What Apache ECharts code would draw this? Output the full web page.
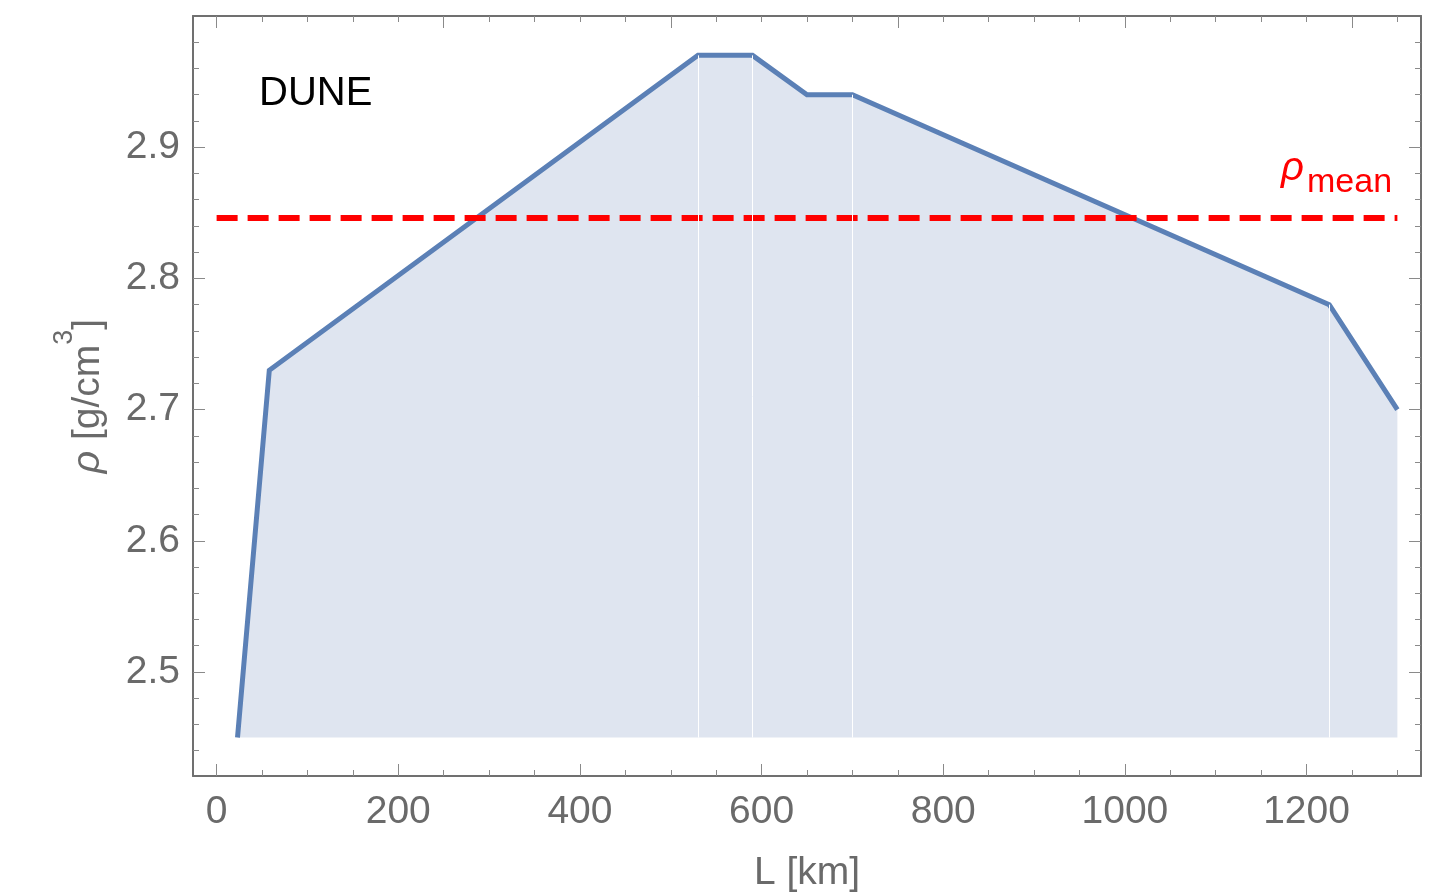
<!DOCTYPE html>
<html>
<head>
<meta charset="utf-8">
<script src="https://cdn.jsdelivr.net/npm/echarts@6/dist/echarts.min.js"></script>
<style>
html,body{margin:0;padding:0;background:#fff;}
#chart{width:1431px;height:894px;}
</style>
</head>
<body>
<div id="chart"></div>
<script>
// ---- data ----
const distanceKm = [23, 58, 530, 590, 650, 700, 1225, 1300];
const densityRho = [2.45, 2.73, 2.97, 2.97, 2.94, 2.94, 2.78, 2.70];
const fillBaseRho = 2.45;
const seamIndex = [2, 3, 5, 6];          // profile vertices with a visible seam in the fill
const meanRho = 2.846;
const meanKm = [0, 1300];
// ---- ticks ----
const xMajorBottom = [0, 200, 400, 600, 800, 1000, 1200];
const xMajorTop = [0, 250, 500, 750, 1000, 1250];
const xMinor = [0, 50, 100, 150, 200, 250, 300, 350, 400, 450, 500, 550, 600, 650, 700,
                750, 800, 850, 900, 950, 1000, 1050, 1100, 1150, 1200, 1250, 1300];
const yMajor = [2.5, 2.6, 2.7, 2.8, 2.9];
const yMinor = [2.44, 2.46, 2.48, 2.5, 2.52, 2.54, 2.56, 2.58, 2.6, 2.62, 2.64, 2.66, 2.68,
                2.7, 2.72, 2.74, 2.76, 2.78, 2.8, 2.82, 2.84, 2.86, 2.88, 2.9, 2.92, 2.94, 2.96, 2.98];
const xRange = [-26, 1326];
const yRange = [2.4207, 3.0];

const FONT = "'Liberation Sans', Arial, sans-serif";
const GREY = '#6a6a6a';
const FRAME = '#707070';
const TICK = '#8a8a8a';

const profile = distanceKm.map((d, i) => [d, densityRho[i]]);
const seams = seamIndex.map(i => [
  { coord: [distanceKm[i], fillBaseRho] },
  { coord: [distanceKm[i], densityRho[i]] }
]);

function xAx(pos, ticks, len, withLine, withLabel) {
  const a = {
    type: 'value', position: pos, min: xRange[0], max: xRange[1],
    axisLine: { show: withLine, onZero: false, lineStyle: { color: FRAME, width: 2 } },
    axisTick: { show: true, inside: true, length: len, customValues: ticks,
                lineStyle: { color: TICK, width: 1 } },
    axisLabel: { show: withLabel, customValues: ticks, color: GREY, fontSize: 39,
                 fontFamily: FONT, margin: 17, formatter: v => String(Math.round(v)) },
    splitLine: { show: false }
  };
  if (withLabel) {
    a.name = 'L [km]';
    a.nameLocation = 'middle';
    a.nameGap = 78;
    a.nameTextStyle = { color: GREY, fontSize: 39, fontFamily: FONT };
  }
  return a;
}
function yAx(pos, ticks, len, withLine, withLabel) {
  const a = {
    type: 'value', position: pos, min: yRange[0], max: yRange[1],
    axisLine: { show: withLine, onZero: false, lineStyle: { color: FRAME, width: 2 } },
    axisTick: { show: true, inside: true, length: len, customValues: ticks,
                lineStyle: { color: TICK, width: 1 } },
    axisLabel: { show: withLabel, customValues: ticks, color: GREY, fontSize: 39,
                 fontFamily: FONT, margin: 13, formatter: v => v.toFixed(1) },
    splitLine: { show: false }
  };
  if (withLabel) {
    a.name = '{i|ρ}{n| [g/cm}{s|3}{n|]}';
    a.nameLocation = 'middle';
    a.nameGap = 85;
    a.nameTextStyle = {
      color: GREY, fontSize: 39, fontFamily: FONT,
      rich: {
        i: { color: GREY, fontSize: 39, fontFamily: FONT, fontStyle: 'italic', lineHeight: 39, verticalAlign: 'bottom' },
        n: { color: GREY, fontSize: 39, fontFamily: FONT, lineHeight: 39, verticalAlign: 'bottom' },
        s: { color: GREY, fontSize: 27, fontFamily: FONT, lineHeight: 57, verticalAlign: 'top' }
      }
    };
  }
  return a;
}

const chart = echarts.init(document.getElementById('chart'), null, { renderer: 'canvas' });
chart.setOption({
  animation: false,
  backgroundColor: '#ffffff',
  grid: { left: 193, right: 10, top: 16, bottom: 118, containLabel: false, outerBoundsMode: 'none' },
  xAxis: [
    xAx('bottom', xMajorBottom, 12, true, true),
    xAx('bottom', xMinor, 6, false, false),
    xAx('top', xMajorTop, 12, true, false),
    xAx('top', xMinor, 6, false, false)
  ],
  yAxis: [
    yAx('left', yMajor, 12, true, true),
    yAx('left', yMinor, 6, false, false),
    yAx('right', yMajor, 12, true, false),
    yAx('right', yMinor, 6, false, false)
  ],
  series: [
    {
      name: 'fill', type: 'line', data: profile, xAxisIndex: 0, yAxisIndex: 0,
      showSymbol: false, z: 1, silent: true,
      lineStyle: { width: 0 },
      areaStyle: { color: '#dfe5f0', opacity: 1, origin: fillBaseRho },
      markLine: {
        silent: true, symbol: ['none', 'none'], animation: false,
        label: { show: false },
        lineStyle: { color: '#ffffff', width: 1, type: 'solid' },
        data: seams
      }
    },
    {
      name: 'profile', type: 'line', data: profile, xAxisIndex: 0, yAxisIndex: 0,
      showSymbol: false, z: 3,
      lineStyle: { color: '#5b80b6', width: 5, cap: 'butt', join: 'miter' }
    },
    {
      name: 'mean', type: 'line', data: meanKm.map(d => [d, meanRho]),
      xAxisIndex: 0, yAxisIndex: 0, showSymbol: false, z: 4,
      lineStyle: { color: '#ff0000', width: 6, type: [21, 10], cap: 'butt' }
    }
  ],
  graphic: [
    { type: 'text', z: 10, style: { text: 'DUNE', x: 259, y: 94, verticalAlign: 'middle',
      fill: '#000000', fontSize: 40, fontFamily: FONT } },
    { type: 'text', z: 10, style: { text: 'ρ', x: 1281, y: 169, verticalAlign: 'middle',
      fill: '#ff0000', fontSize: 40, fontStyle: 'italic', fontFamily: FONT } },
    { type: 'text', z: 10, style: { text: 'mean', x: 1307, y: 183, verticalAlign: 'middle',
      fill: '#ff0000', fontSize: 34, fontFamily: FONT } }
  ]
});
</script>
</body>
</html>
